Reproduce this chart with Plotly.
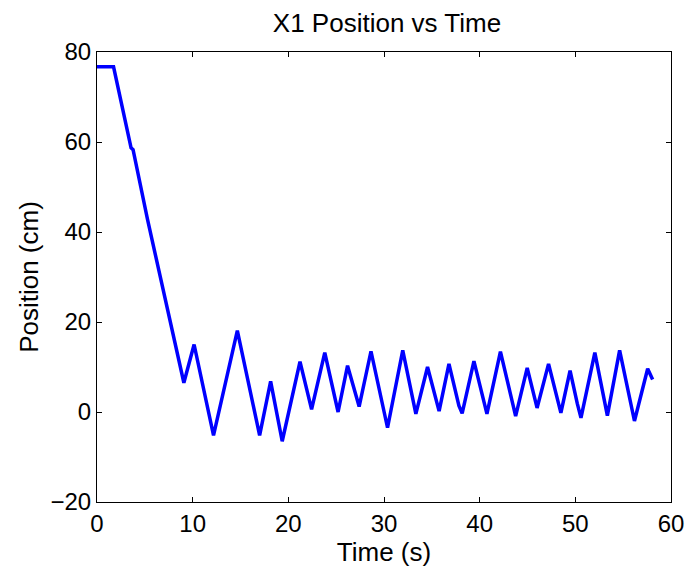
import plotly.graph_objects as go

# Time (s) and position (cm)
time_s = [0.0, 1.73, 3.56, 3.77, 5.28, 9.08, 10.15, 12.18, 14.67, 17.0, 18.15, 19.36,
          21.22, 22.43, 23.81, 25.2, 26.19, 26.92, 27.4, 28.64, 30.37, 31.96, 33.33,
          34.55, 35.76, 36.79, 37.83, 38.17, 39.4, 40.76, 42.17, 43.76, 44.97, 46.0,
          47.2, 48.49, 49.45, 50.2, 50.59, 52.04, 53.35, 54.63, 55.15, 56.18, 57.56, 58.08]
position_cm = [76.7, 76.7, 58.7, 58.3, 42.8, 6.5, 15.0, -5.2, 18.1, -5.2, 6.8, -6.5,
               11.2, 0.6, 13.2, 0.0, 10.3, 5.2, 1.2, 13.5, -3.5, 13.7, -0.4,
               10.0, 0.2, 10.7, 1.4, -0.3, 11.3, -0.4, 13.4, -0.9, 9.8, 0.9,
               10.7, -0.2, 9.2, 1.9, -1.3, 13.2, -0.8, 13.7, 8.7, -2.0, 9.6, 7.2]

x_ticks = [0, 10, 20, 30, 40, 50, 60]
y_ticks = [-20, 0, 20, 40, 60, 80]
y_tick_text = ["\u221220", "0", "20", "40", "60", "80"]

font_family = "Liberation Sans, Arial, sans-serif"

fig = go.Figure()
fig.add_trace(go.Scatter(x=time_s, y=position_cm, mode="lines",
                         line=dict(color="#0000ff", width=3.5), showlegend=False))

axis_common = dict(showgrid=False, zeroline=False, showline=True, linecolor="black",
                   linewidth=1, mirror="ticks", ticks="inside", ticklen=5,
                   tickcolor="black", tickfont=dict(size=24, color="black", family=font_family))

fig.update_layout(
    width=696, height=571,
    paper_bgcolor="white", plot_bgcolor="white",
    margin=dict(l=97, r=19, t=52, b=69),
    title=dict(text="X1 Position vs Time", x=0.556, xanchor="center", y=0.96, yanchor="middle",
               font=dict(size=26, color="black", family=font_family)),
    xaxis=dict(range=[0, 60], tickvals=x_ticks, ticktext=[str(v) for v in x_ticks],
               title=dict(text="Time (s)", standoff=0,
                          font=dict(size=26, color="black", family=font_family)),
               **axis_common),
    yaxis=dict(range=[-20, 80], tickvals=y_ticks, ticktext=y_tick_text,
               title=dict(text="Position (cm)", standoff=4,
                          font=dict(size=26, color="black", family=font_family)),
               **axis_common),
)

fig.write_html("out.html")
